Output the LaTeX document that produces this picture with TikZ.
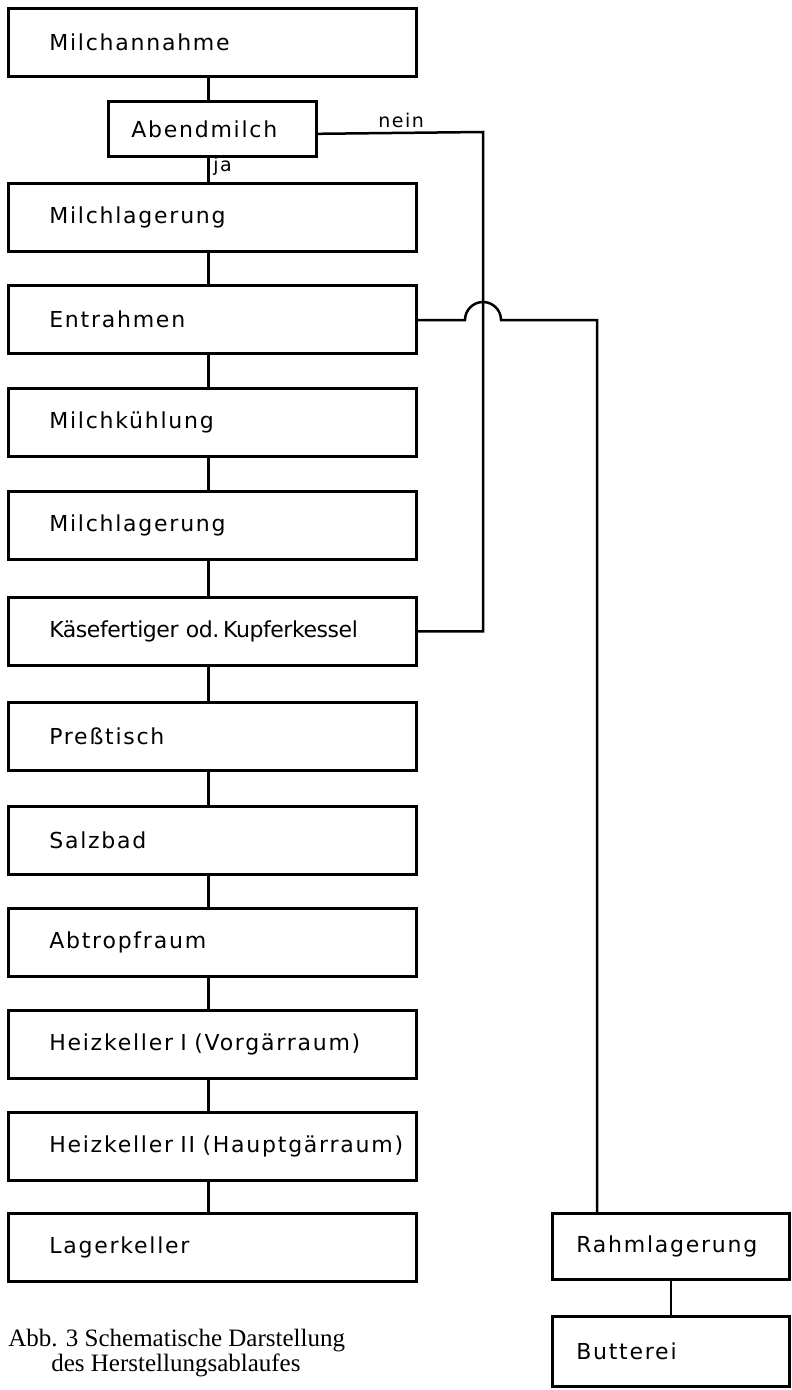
\documentclass[tikz,border=0pt]{standalone}
\usepackage{fontspec}
\newfontfamily\boxfont[LetterSpace=8]{DejaVu Sans}
\newfontfamily\boxfonttight[LetterSpace=-2]{DejaVu Sans}
\newfontfamily\captfont{Liberation Serif}
\begin{document}
\begin{tikzpicture}[x=1pt,y=-1pt,
  line width=2.6pt,
  box/.style={draw,rectangle,anchor=north west,minimum height=68pt,
    text width=326pt,inner xsep=41pt,inner ysep=0pt,align=left,
    font=\boxfont\fontsize{22}{26}\selectfont},
  smallbox/.style={box,text width=162pt,inner xsep=23pt,minimum height=55pt},
  rbox/.style={box,text width=189pt,inner xsep=24pt,minimum height=66pt},
  lbl/.style={anchor=base west,inner sep=0pt,font=\boxfont\fontsize{19}{21}\selectfont},
  capt/.style={anchor=base west,inner sep=0pt,font=\captfont\fontsize{25}{28}\selectfont},
  conn/.style={line width=2.5pt}]
\useasboundingbox (0,0) rectangle (792,1390);
\node[box] (m1) at (7,7) {\mbox{Milchannahme}};
\node[smallbox] (ab) at (107,100) {\mbox{Abendmilch}};
\node[box] (m3) at (7,182) {\mbox{Milchlagerung}};
\node[box] (m4) at (7,284) {\mbox{Entrahmen}};
\node[box] (m5) at (7,387) {\mbox{Milchkühlung}};
\node[box] (m6) at (7,490) {\mbox{Milchlagerung}};
\node[box,font=\boxfonttight\fontsize{22}{26}\selectfont] (m7) at (7,596) {\mbox{Käsefertiger od.\,Kupferkessel}};
\node[box] (m8) at (7,701) {\mbox{Preßtisch}};
\node[box] (m9) at (7,805) {\mbox{Salzbad}};
\node[box] (m10) at (7,907) {\mbox{Abtropfraum}};
\node[box] (m11) at (7,1009) {\mbox{Heizkeller I (Vorgärraum)}};
\node[box] (m12) at (7,1111) {\mbox{Heizkeller II (Hauptgärraum)}};
\node[box] (m13) at (7,1212) {\mbox{Lagerkeller}};
\node[rbox] (r1) at (551,1212) {\mbox{Rahmlagerung}};
\node[rbox,minimum height=70pt] (r2) at (551,1315) {\mbox{Butterei}};
% main column connectors
\foreach \a/\b in {m1/ab,ab/m3,m3/m4,m4/m5,m5/m6,m6/m7,m7/m8,m8/m9,m9/m10,m10/m11,m11/m12,m12/m13}
  \draw[conn] ([xshift=-4pt]\a.south) -- ([xshift=-4pt]\b.north);
\draw[conn] (r1.south) -- (r2.north);
% nein branch
\coordinate (nv) at (483,132);
\draw[conn] ([yshift=-5pt]ab.east) -- (nv) -- (nv |- m7.east) -- (m7.east);
\node[lbl] (nein) at (377,127) {nein};
\node[lbl] (ja) at (212,171) {ja};
% Rahm branch with jump over
\coordinate (jl) at (465,320);
\coordinate (rv) at (597,320);
\draw[conn] (m4.east |- jl) -- (jl) arc[start angle=180,end angle=360,radius=18] -- (rv) -- (rv |- r1.north);
% caption
\node[capt] (c1) at (7,1346) {Abb. 3 Schematische Darstellung};
\node[capt] (c2) at (50,1371) {des Herstellungsablaufes};
\end{tikzpicture}
\end{document}
